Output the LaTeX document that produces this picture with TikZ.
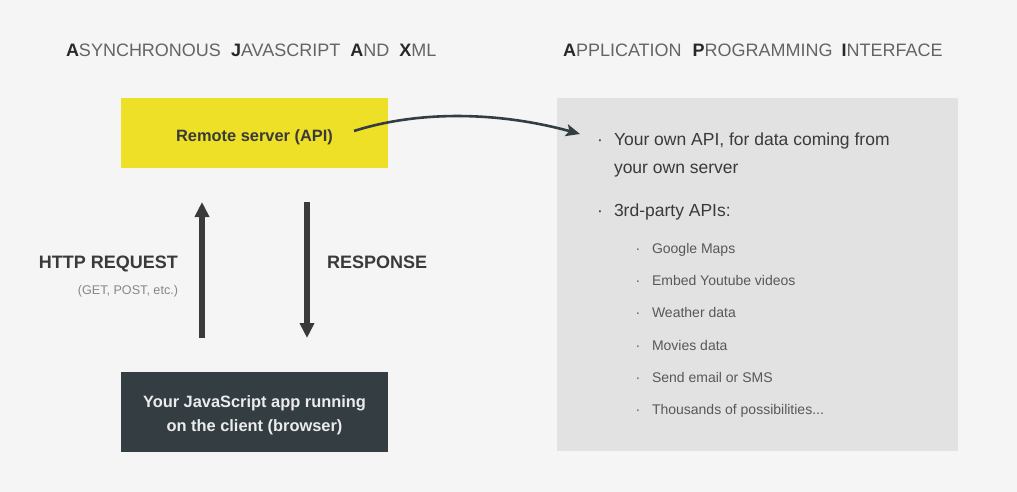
\documentclass[tikz,border=0pt]{standalone}
\usepackage{fontspec}
\setmainfont{Liberation Sans}
\usetikzlibrary{arrows.meta}

\definecolor{bg}{RGB}{245,245,245}
\definecolor{jsyellow}{RGB}{237,224,38}
\definecolor{slate}{RGB}{51,61,66}
\definecolor{panel}{RGB}{226,226,226}
\definecolor{ink}{RGB}{58,58,58}
\definecolor{titlegray}{RGB}{100,100,100}
\definecolor{titledark}{RGB}{40,40,40}
\definecolor{subgray}{RGB}{88,88,88}
\definecolor{notegray}{RGB}{135,135,135}
\definecolor{paper}{RGB}{236,236,236}

% bold, darker first letter of each title word
\newcommand{\initial}[1]{{\bfseries\color{titledark}#1}}

\begin{document}
\begin{tikzpicture}[x=1pt,y=-1pt,
  every node/.style={inner sep=0pt, outer sep=0pt},
  box/.style={rectangle, minimum width=267pt},
  title/.style={anchor=base west, font=\fontsize{18}{22}\selectfont, text=titlegray},
  flowlabel/.style={font=\fontsize{18}{22}\selectfont\bfseries, text=ink},
  boxlabel/.style={anchor=base, font=\fontsize{16.4}{20}\selectfont\bfseries},
  item/.style={anchor=base west, font=\fontsize{17.5}{21}\selectfont, text=ink},
  itemdot/.style={anchor=base, font=\fontsize{17.5}{21}\selectfont, text=ink},
  subitem/.style={anchor=base west, font=\fontsize{14}{17}\selectfont, text=subgray},
  subdot/.style={anchor=base, font=\fontsize{14}{17}\selectfont, text=subgray},
  bigarrow/.style={draw=ink, line width=6pt, -{Triangle[length=15pt,width=14pt]}},
  curvearrow/.style={draw=slate, line width=2.6pt, -{Stealth[length=14pt,width=12pt,inset=3pt]}},
]
% canvas
\fill[bg] (0,0) rectangle (1017,492);
\useasboundingbox (0,0) rectangle (1017,492);

% headings
\node[title] (ajax) at (66,57)
  {\initial{A}SYNCHRONOUS\hspace{10pt}\initial{J}AVASCRIPT\hspace{10pt}\initial{A}ND\hspace{10pt}\initial{X}ML};
\node[title] (apititle) at (563,57)
  {\initial{A}PPLICATION\hspace{11pt}\initial{P}ROGRAMMING\hspace{9pt}\initial{I}NTERFACE};

% boxes
\node[box, fill=jsyellow, minimum height=70pt] (server) at (254.5,133) {};
\node[box, fill=slate, minimum height=80pt] (client) at (254.5,412) {};
\node[fill=panel, minimum width=401pt, minimum height=353pt] (apipanel) at (757.5,274.5) {};

\node[boxlabel, text=ink] (serverlabel) at (254.5,142) {Remote server (API)};
\node[boxlabel, text=paper] (clientlabel1) at (254.5,407) {Your JavaScript app running};
\node[boxlabel, text=paper] (clientlabel2) at (254.5,431) {on the client (browser)};

% request / response arrows
\coordinate (upx) at (202,0);
\coordinate (downx) at (307,0);
\draw[bigarrow, shorten <=34pt, shorten >=34pt] (client.north -| upx) -- (server.south -| upx);
\draw[bigarrow, shorten <=34pt, shorten >=34pt] (server.south -| downx) -- (client.north -| downx);

\node[flowlabel, anchor=base east] (request) at (178,268) {HTTP REQUEST};
\node[anchor=base east, font=\fontsize{12.6}{15}\selectfont, text=notegray] (methods) at (178,294) {(GET, POST, etc.)};
\node[flowlabel, anchor=base west] (response) at (327,268) {RESPONSE};

% arrow from the server into the API list
\coordinate (srcpt) at (354,131);
\coordinate (dstpt) at (580,134);
\draw[curvearrow] (srcpt) .. controls (420,110) and (500,112) .. (dstpt);

% API list
\node[itemdot] (dot1) at (600,146) {·};
\node[item] (own1) at (614,146) {Your own API, for data coming from};
\node[item] (own2) at (614,173) {your own server};
\node[itemdot] (dot2) at (600,216) {·};
\node[item] (third) at (614,216) {3rd-party APIs:};

\foreach \y/\txt [count=\i] in {253/{Google Maps}, 285.5/{Embed Youtube videos}, 317.8/{Weather data},
    350/{Movies data}, 382.2/{Send email or SMS}, 414.4/{Thousands of possibilities...}}{
  \node[subdot] (subdot\i) at (638,\y) {·};
  \node[subitem] (sub\i) at (652,\y) {\txt};
}
\end{tikzpicture}
\end{document}
